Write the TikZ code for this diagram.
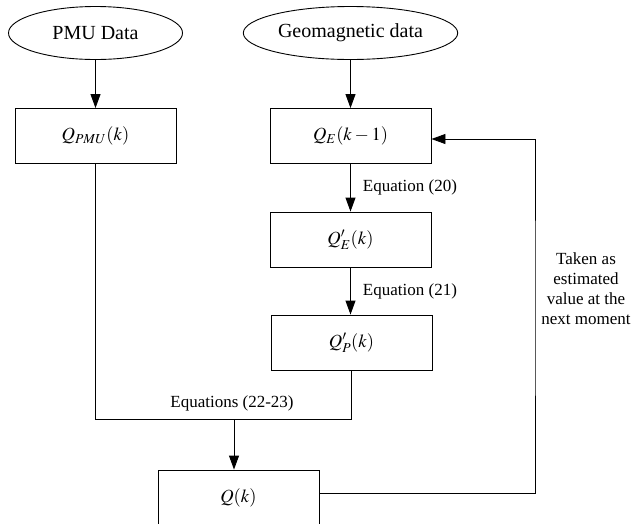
\documentclass[tikz,border=0pt]{standalone}
\usepackage{mathptmx}
\usepackage{fontspec}
\setmainfont{Liberation Serif}
\usetikzlibrary{positioning,quotes,shapes.geometric,arrows.meta}

\begin{document}
\begin{tikzpicture}[x=1pt, y=-1pt,
    every node/.style = {font=\fontsize{17}{20}\selectfont},
    src/.style = {draw, ellipse, minimum width=174pt, minimum height=53pt,
      font=\fontsize{20}{24}\selectfont},
    box/.style = {draw, minimum width=161pt, minimum height=55pt,
      font=\fontsize{18.5}{22}\selectfont},
    every edge/.style = {draw, -{Triangle[length=14pt,width=10pt]}},
    every edge quotes/.style = {auto, inner sep=0pt, xshift=12pt}]
  \useasboundingbox (0,0) rectangle (631,523);
  \tikzset{every path/.style={line width=0.9pt}}
  \node (pmu)  [src] at (95.5,33)   {PMU Data};
  \node (geo)  [src] at (350.5,33)  {Geomagnetic data};
  \node (qpmu) [box] at (95.5,136)  {$Q_{PMU}(k)$};
  \node (qe)   [box] at (350.5,136) {$Q_E(k-1)$};
  \node (qep)  [box] at (350.5,239.5) {$Q'_E(k)$};
  \node (qpp)  [box] at (351.5,342.5) {$Q'_P(k)$};
  \node (qk)   [box] at (238.5,497.5) {$Q(k)$};
  \coordinate (join) at (234,419);
  \coordinate (back) at (535,300);
  \draw (pmu) edge (qpmu);
  \draw (geo) edge (qe);
  \draw (qe)  edge["Equation (20)"] (qep);
  \draw (qep.south) edge["Equation (21)"] (qep.south |- qpp.north);
  % merge of both branches
  \draw (qpmu.south) |- (join) -| (qpp.south);
  \node (eqs) at (232,403) {Equations (22-23)};
  \draw (join) edge (join |- qk.north);
  % feedback to the next step
  \draw[-{Triangle[length=14pt,width=10pt]}] ([yshift=4.5pt]qk.east) -| (back)
    |- ([yshift=-3pt]qe.east);
  \node (note) [align=center] at (586,289)
    {Taken as\\estimated\\value at the\\next moment};
\end{tikzpicture}
\end{document}
